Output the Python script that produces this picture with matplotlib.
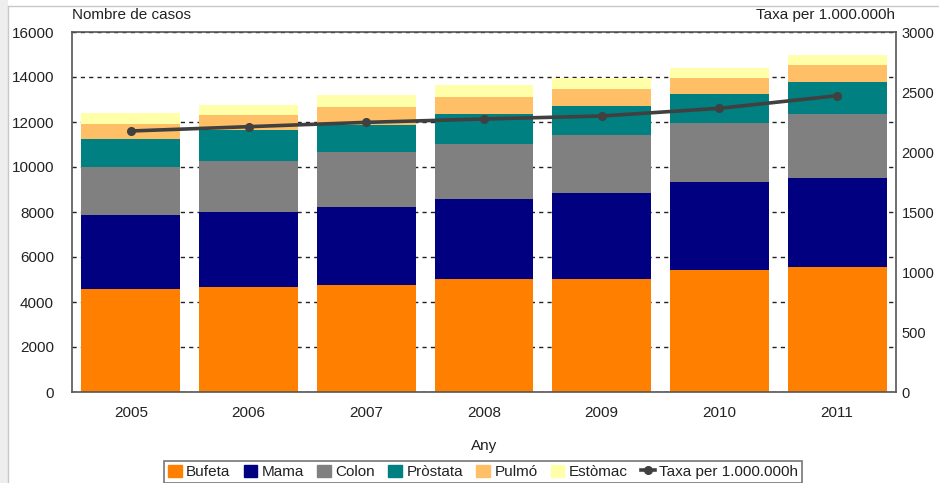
import matplotlib
matplotlib.use("Agg")
import matplotlib.pyplot as plt
import matplotlib.patches as mpatches
from matplotlib.lines import Line2D
import numpy as np

plt.rcParams['font.family'] = ['Liberation Sans', 'DejaVu Sans']

years = ["2005", "2006", "2007", "2008", "2009", "2010", "2011"]
bufeta = [4590, 4650, 4770, 5040, 5040, 5440, 5560]
mama = [3260, 3350, 3470, 3520, 3790, 3910, 3970]
colon = [2150, 2280, 2440, 2450, 2580, 2620, 2830]
prostata = [1230, 1360, 1200, 1330, 1320, 1270, 1400]
pulmo = [680, 670, 800, 790, 740, 720, 770]
estomac = [500, 430, 510, 510, 470, 460, 430]
taxa = [2175, 2211, 2247, 2275, 2300, 2364, 2469]

series = [
    ("Bufeta", bufeta, "#FF8000"),
    ("Mama", mama, "#000080"),
    ("Colon", colon, "#808080"),
    ("Pròstata", prostata, "#008080"),
    ("Pulmó", pulmo, "#FFBF66"),
    ("Estòmac", estomac, "#FFFFAA"),
]
line_label = "Taxa per 1.000.000h"

W, H = 939, 483
fig = plt.figure(figsize=(W / 100, H / 100), dpi=100)
fig.patch.set_facecolor("white")

# light frame around the chart area
fig.add_artist(mpatches.Rectangle((0, 0), 8 / W, 1, transform=fig.transFigure,
                                  facecolor="#eeeeee", edgecolor="none", zorder=0))
fig.add_artist(Line2D([8 / W, 8 / W], [0, 1 - 6 / H], transform=fig.transFigure,
                      color="#c8c8c8", lw=1))
fig.add_artist(Line2D([8 / W, 1], [1 - 6 / H, 1 - 6 / H], transform=fig.transFigure,
                      color="#c8c8c8", lw=1))

ax = fig.add_axes([72 / W, (H - 392) / H, (896 - 72) / W, (392 - 32) / H])
x = np.arange(len(years))
bottom = np.zeros(len(years))
handles = []
for name, vals, col in series:
    ax.bar(x, vals, width=0.84, bottom=bottom, color=col, edgecolor="none", zorder=2)
    bottom += np.array(vals)
    handles.append(mpatches.Patch(color=col, label=name))

ax.set_xlim(-0.5, len(years) - 0.5)
ax.set_ylim(0, 16000)
ax.set_yticks(np.arange(0, 16001, 2000))
ax.set_xticks(x)
ax.set_xticklabels(years)
ax.yaxis.grid(True, linestyle=(0, (3, 3)), color="#222222", lw=1.0, zorder=1)
ax.set_axisbelow(True)
ax.tick_params(axis="both", length=0, labelsize=11, colors="#222222")
ax.tick_params(axis="y", pad=13)
ax.tick_params(axis="x", pad=10)
for s in ax.spines.values():
    s.set_color("#555555")
    s.set_linewidth(1.2)
ax.set_xlabel("Any", fontsize=11, color="#222222", labelpad=14)

ax2 = ax.twinx()
ax2.set_ylim(0, 3000)
ax2.set_yticks(np.arange(0, 3001, 500))
ax2.tick_params(axis="y", length=0, labelsize=10.5, colors="#222222", pad=4)
for s in ax2.spines.values():
    s.set_visible(False)
ax2.plot(x, taxa, color="#404040", lw=2.6, marker="o", markersize=5.5, zorder=5)
handles.append(Line2D([], [], color="#404040", lw=2.6, marker="o", markersize=5.5,
                      label=line_label))

fig.text(72 / W, 1 - 15 / H, "Nombre de casos", fontsize=11, color="#222222",
         ha="left", va="center")
fig.text(895 / W, 1 - 15 / H, "Taxa per 1.000.000h", fontsize=11, color="#222222",
         ha="right", va="center")

leg = fig.legend(handles=handles, loc="upper center", ncol=7,
                 bbox_to_anchor=(483 / W, (H - 461) / H), fontsize=11,
                 frameon=True, fancybox=False, handlelength=0.9, handleheight=0.8,
                 handletextpad=0.3, columnspacing=0.85, borderpad=0.25,
                 borderaxespad=0)
leg.get_frame().set_edgecolor("#555555")
leg.get_frame().set_linewidth(1.2)
for t in leg.get_texts():
    t.set_color("#222222")

fig.savefig("out.png", dpi=100)
